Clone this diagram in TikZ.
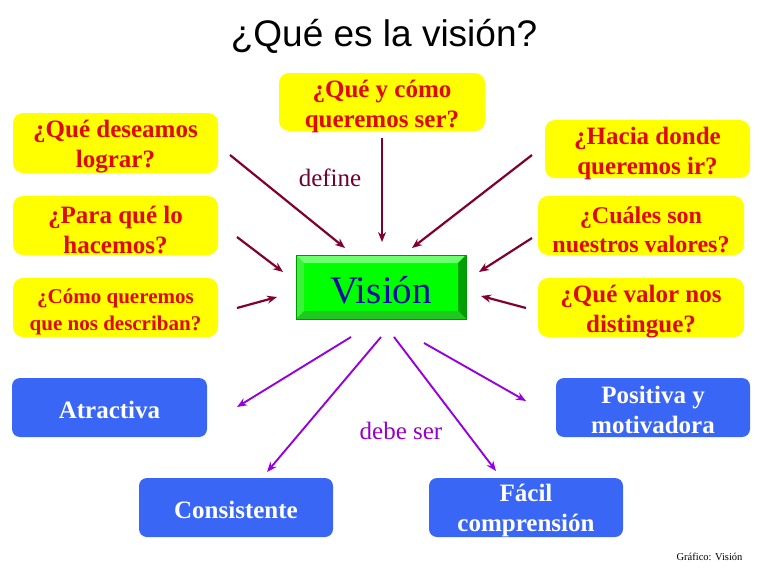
\documentclass[tikz,border=0pt]{standalone}
\usepackage{fontspec}
\setmainfont{Liberation Serif}
\newfontfamily\titlefont{Liberation Sans}
\usetikzlibrary{arrows.meta}
\definecolor{qyellow}{RGB}{255,255,0}
\definecolor{qred}{RGB}{222,10,10}
\definecolor{qblue}{RGB}{58,102,245}
\definecolor{maroonarrow}{RGB}{128,0,48}
\definecolor{maroontext}{RGB}{110,0,50}
\definecolor{purplearrow}{RGB}{150,0,220}
\definecolor{purpletext}{RGB}{150,0,200}
\definecolor{gface}{RGB}{0,255,0}
\definecolor{glight}{RGB}{110,255,110}
\definecolor{gleft}{RGB}{60,240,60}
\definecolor{gdark}{RGB}{0,160,0}
\definecolor{gbottom}{RGB}{30,200,30}
\definecolor{gborder}{RGB}{0,150,0}
\definecolor{vistext}{RGB}{15,15,160}
\begin{document}
\begin{tikzpicture}[x=1pt,y=-1pt,
  qbox/.style={fill=qyellow, rounded corners=10pt, inner sep=0pt},
  qtext/.style={inner sep=0pt, align=center, text=qred, yshift=-4pt,
    font=\bfseries\fontsize{25}{30}\selectfont},
  abox/.style={fill=qblue, rounded corners=8pt, inner sep=0pt},
  atext/.style={inner sep=0pt, align=center, text=white, yshift=-2.5pt,
    font=\bfseries\fontsize{25}{30}\selectfont},
  inarrow/.style={draw=maroonarrow, line width=2.2pt, -{Stealth[length=10pt,width=8pt]}},
  outarrow/.style={draw=purplearrow, line width=1.9pt, -{Stealth[length=10pt,width=8pt]}},
]
\useasboundingbox (0,0) rectangle (768,576);
\fill[white] (0,0) rectangle (768,576);

% title
\node[anchor=base, font=\titlefont\fontsize{37}{40}\selectfont] (title) at (384,46) {¿Qué es la visión?};

% question boxes
\node[qbox, minimum width=206pt, minimum height=58pt] (qy) at (382,102) {};
\node[qtext] (qy-t) at (qy.center) {¿Qué y cómo\\queremos ser?};
\node[qbox, minimum width=205pt, minimum height=60pt] (qd) at (115.5,143) {};
\node[qtext] (qd-t) at (qd.center) {¿Qué deseamos\\lograr?};
\node[qbox, minimum width=205pt, minimum height=59pt] (pq) at (115.5,225.5) {};
\node[qtext] (pq-t) at (pq.center) {¿Para qué lo\\hacemos?};
\node[qbox, minimum width=205pt, minimum height=59pt] (cq) at (115.5,307.5) {};
\node[qtext, font=\bfseries\fontsize{21}{27}\selectfont] (cq-t) at (cq.center) {¿Cómo queremos\\que nos describan?};
\node[qbox, minimum width=205pt, minimum height=58pt] (hd) at (647.5,149) {};
\node[qtext] (hd-t) at (hd.center) {¿Hacia donde\\queremos ir?};
\node[qbox, minimum width=206pt, minimum height=59pt] (cv) at (641,225.5) {};
\node[qtext, font=\bfseries\fontsize{24}{29}\selectfont] (cv-t) at (cv.center) {¿Cuáles son\\nuestros valores?};
\node[qbox, minimum width=206pt, minimum height=59pt] (qv) at (641,307.5) {};
\node[qtext] (qv-t) at (qv.center) {¿Qué valor nos\\distingue?};

% vision bevel box
\fill[gface] (296,255) rectangle (466,319);
\fill[glight] (296,255) -- (466,255) -- (458,263) -- (304,263) -- cycle;
\fill[gleft] (296,255) -- (304,263) -- (304,311) -- (296,319) -- cycle;
\fill[gdark] (466,255) -- (466,319) -- (458,311) -- (458,263) -- cycle;
\fill[gbottom] (296,319) -- (466,319) -- (458,311) -- (304,311) -- cycle;
\draw[gborder, line width=0.8pt] (296,255) rectangle (466,319);
\node[inner sep=0pt, minimum width=170pt, minimum height=64pt] (vis) at (381,287) {};
\node[inner sep=0pt, text=vistext, yshift=-3pt, font=\fontsize{39}{42}\selectfont] (vis-t) at (vis.center) {Visión};

% attribute boxes
\node[abox, minimum width=195pt, minimum height=59pt] (at) at (109.5,407.5) {};
\node[atext] (at-t) at (at.center) {Atractiva};
\node[abox, minimum width=194pt, minimum height=59pt] (pm) at (653,407.5) {};
\node[atext] (pm-t) at (pm.center) {Positiva y\\motivadora};
\node[abox, minimum width=194pt, minimum height=59pt] (co) at (236,507.5) {};
\node[atext] (co-t) at (co.center) {Consistente};
\node[abox, minimum width=194pt, minimum height=59pt] (fc) at (526,507.5) {};
\node[atext] (fc-t) at (fc.center) {Fácil\\comprensión};

% labels
\node[text=maroontext, font=\fontsize{25}{30}\selectfont] (define) at (330,178) {define};
\node[text=purpletext, font=\fontsize{25}{30}\selectfont] (debe) at (401,431) {debe ser};
\node[anchor=base east, font=\fontsize{10.5}{12}\selectfont] (credit) at (746,560) {Gráfico: Visión};

% arrow end points
\coordinate (a1s) at (230,155); \coordinate (a1e) at (345,248);
\coordinate (a2s) at (237,237); \coordinate (a2e) at (283,272);
\coordinate (a3s) at (237,308); \coordinate (a3e) at (277,297);
\coordinate (a4s) at (382,138); \coordinate (a4e) at (382,242);
\coordinate (a5s) at (532,155); \coordinate (a5e) at (412,248);
\coordinate (a6s) at (532,238); \coordinate (a6e) at (479,272);
\coordinate (a7s) at (526,308); \coordinate (a7e) at (481,296);
\coordinate (b1s) at (351,337); \coordinate (b1e) at (237,407);
\coordinate (b2s) at (381,337); \coordinate (b2e) at (267,472);
\coordinate (b3s) at (394,337); \coordinate (b3e) at (496,471);
\coordinate (b4s) at (424,343); \coordinate (b4e) at (526,401);

\foreach \k in {1,...,7} {\draw[inarrow] (a\k s) -- (a\k e);}
\foreach \k in {1,...,4} {\draw[outarrow] (b\k s) -- (b\k e);}
\end{tikzpicture}
\end{document}
